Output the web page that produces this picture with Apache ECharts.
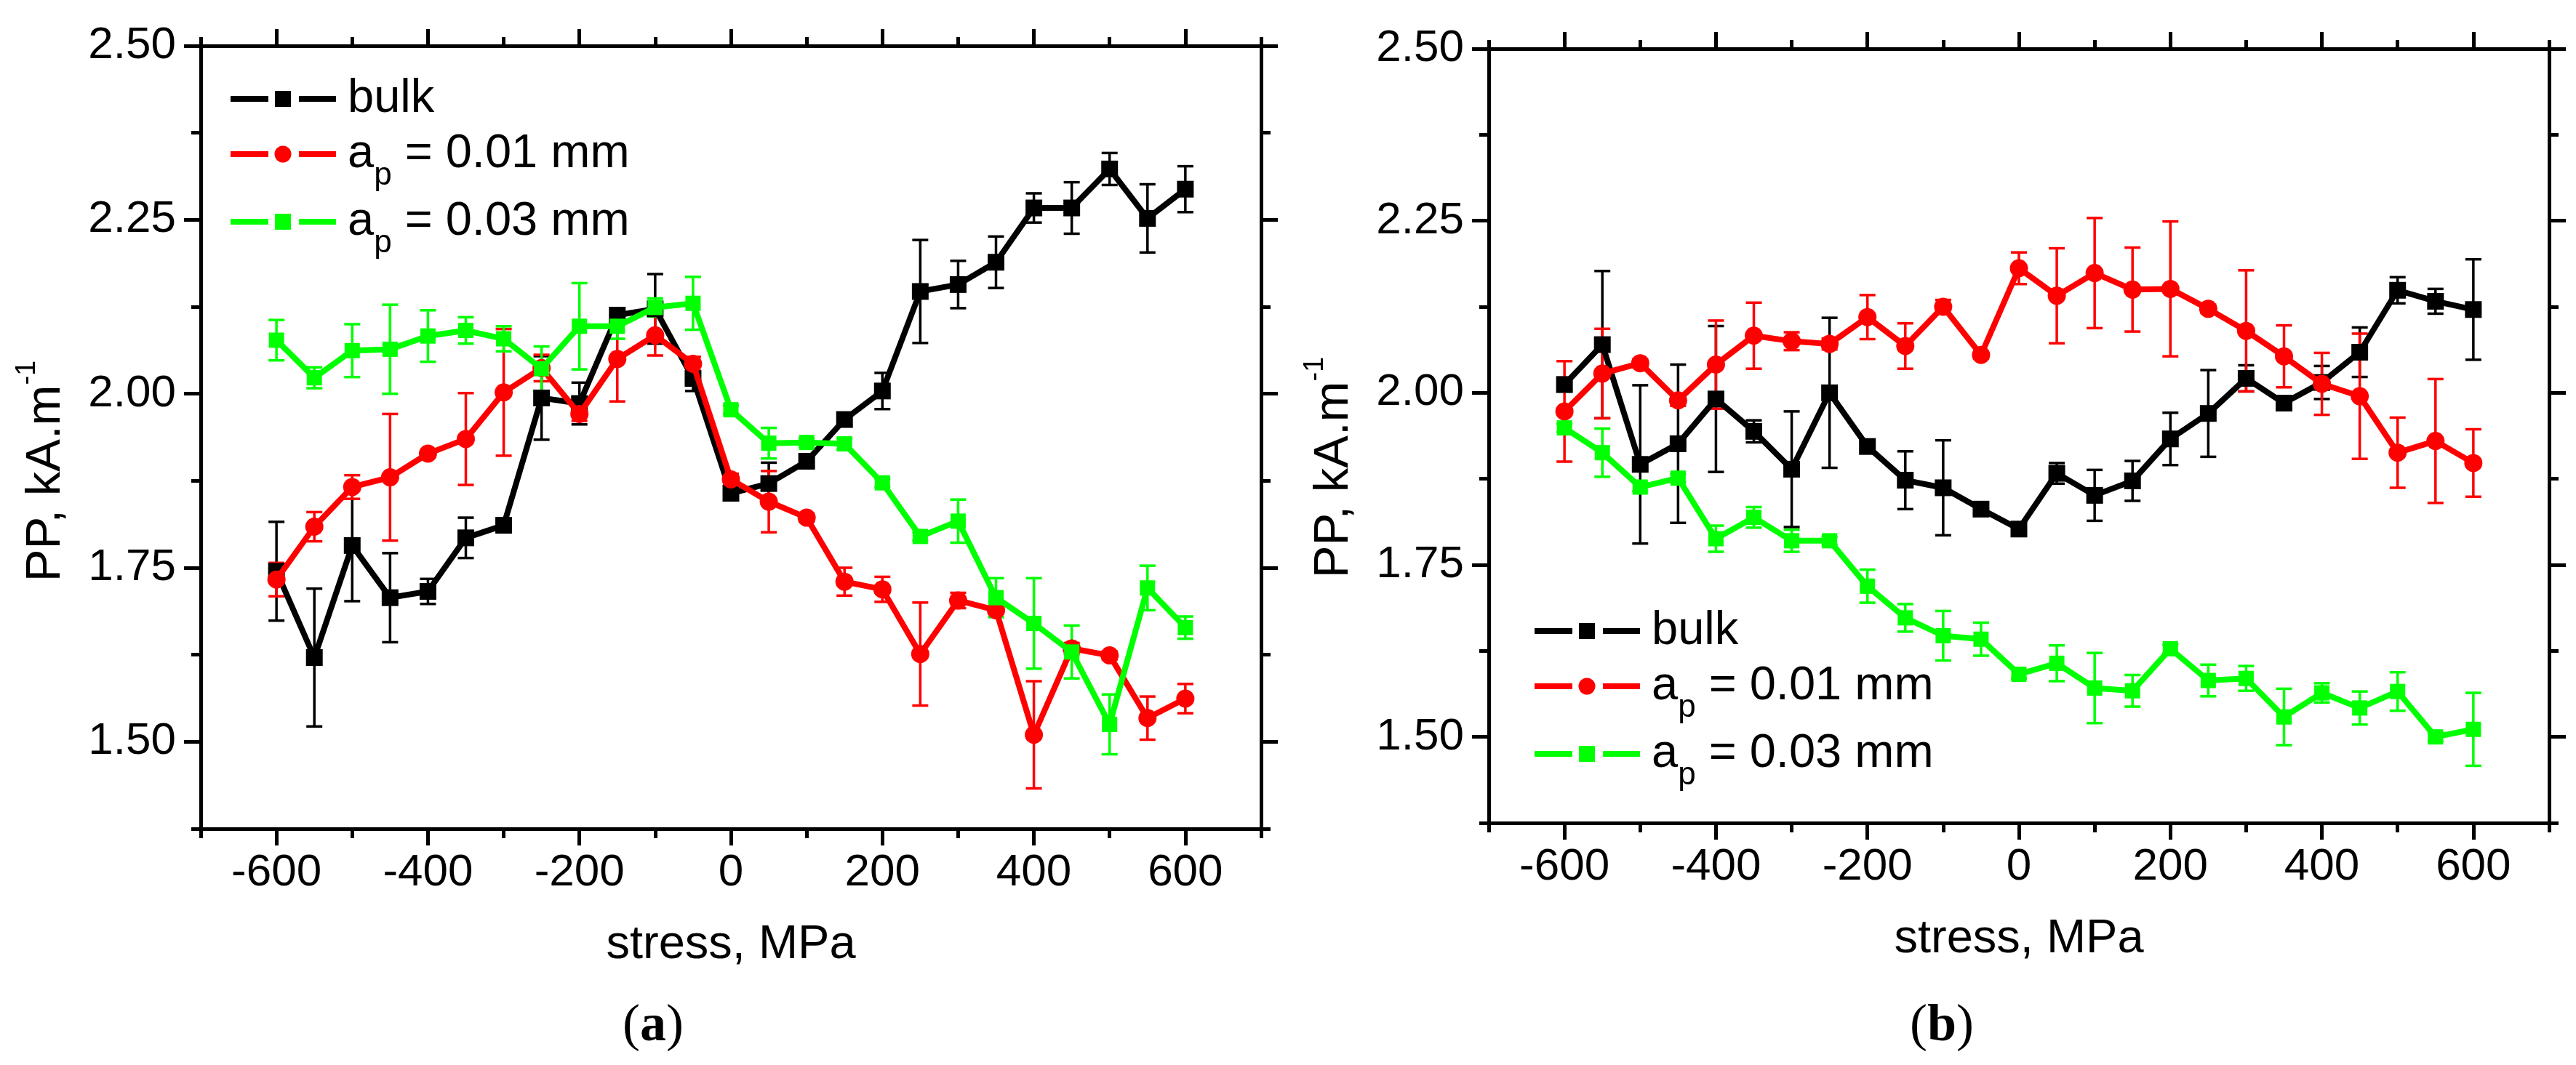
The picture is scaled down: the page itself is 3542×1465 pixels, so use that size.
<!DOCTYPE html>
<html><head><meta charset="utf-8">
<script src="https://cdn.jsdelivr.net/npm/echarts@6/dist/echarts.min.js"></script>
<style>html,body{margin:0;padding:0;background:#fff}#main{width:3542px;height:1465px}</style>
</head><body><div id="main"></div>
<script>
// ---------- DATA ----------
const stress = [-600,-550,-500,-450,-400,-350,-300,-250,-200,-150,-100,-50,0,50,100,150,200,250,300,350,400,450,500,550,600];
const seriesNames = ['bulk', 'a_p = 0.01 mm', 'a_p = 0.03 mm'];

// panel (a)
const bulkA     = [1.745,1.621,1.782,1.707,1.716,1.793,1.811,1.994,1.986,2.113,2.122,2.022,1.857,1.871,1.903,1.963,2.004,2.147,2.157,2.189,2.267,2.267,2.323,2.252,2.294];
const bulkAErr  = [0.071,0.099,0.080,0.064,0.018,0.029,0.006,0.060,0.030,0.010,0.050,0.018,0.008,0.030,0.008,0.008,0.026,0.074,0.034,0.037,0.021,0.037,0.023,0.049,0.033];
const ap01A     = [1.733,1.809,1.866,1.880,1.914,1.935,2.002,2.037,1.971,2.050,2.084,2.043,1.877,1.845,1.822,1.730,1.719,1.626,1.703,1.689,1.510,1.634,1.624,1.534,1.562];
const ap01AErr  = [0.024,0.021,0.017,0.091,0.005,0.066,0.091,0.019,0.010,0.061,0.029,0.010,0.008,0.044,0.006,0.020,0.018,0.074,0.011,0.005,0.077,0.008,0.006,0.031,0.021];
const ap03A     = [2.077,2.023,2.062,2.064,2.083,2.091,2.079,2.036,2.097,2.097,2.124,2.130,1.977,1.929,1.930,1.928,1.872,1.795,1.817,1.707,1.670,1.629,1.525,1.721,1.664];
const ap03AErr  = [0.029,0.015,0.038,0.064,0.037,0.019,0.018,0.032,0.062,0.018,0.013,0.038,0.006,0.022,0.006,0.008,0.006,0.006,0.031,0.028,0.065,0.038,0.043,0.032,0.016];

// panel (b)
const bulkB     = [2.012,2.070,1.896,1.926,1.991,1.944,1.889,2.000,1.922,1.873,1.862,1.831,1.802,1.883,1.851,1.872,1.933,1.970,2.021,1.985,2.015,2.059,2.149,2.133,2.121];
const bulkBErr  = [0.010,0.107,0.115,0.115,0.106,0.016,0.084,0.109,0.005,0.042,0.069,0.006,0.006,0.015,0.037,0.029,0.038,0.063,0.019,0.006,0.024,0.036,0.019,0.018,0.073];
const ap01B     = [1.973,2.028,2.043,1.989,2.041,2.083,2.075,2.071,2.110,2.068,2.125,2.055,2.181,2.141,2.174,2.150,2.151,2.122,2.090,2.053,2.013,1.995,1.913,1.930,1.898];
const ap01BErr  = [0.073,0.065,0.006,0.008,0.064,0.048,0.013,0.008,0.032,0.033,0.010,0.005,0.023,0.069,0.080,0.061,0.098,0.006,0.088,0.045,0.045,0.091,0.051,0.090,0.049];
const ap03B     = [1.949,1.913,1.863,1.876,1.788,1.819,1.785,1.785,1.719,1.673,1.647,1.642,1.591,1.607,1.571,1.567,1.628,1.582,1.585,1.529,1.564,1.542,1.566,1.500,1.511];
const ap03BErr  = [0.006,0.035,0.006,0.006,0.019,0.015,0.016,0.006,0.024,0.020,0.036,0.024,0.006,0.026,0.051,0.023,0.006,0.023,0.018,0.041,0.014,0.024,0.028,0.006,0.053];

// axes ticks
const xMajorTicks = [-600,-400,-200,0,200,400,600];
const xMinorTicks = [-700,-500,-300,-100,100,300,500,700];
const yMajorTicks = [1.50,1.75,2.00,2.25,2.50];
const yMinorTicks = [1.375,1.625,1.875,2.125,2.375];
const xName = 'stress, MPa';
const yName = 'PP, kA.m';
const panelLabels = ['a', 'b'];

// ---------- STYLE / LAYOUT ----------
const FONT = '"Liberation Sans", Arial, Helvetica, sans-serif';
const SERIF = '"Liberation Serif", "Times New Roman", serif';
const COLORS = ['#000000', '#ff0000', '#00ff00'];
const SYMBOLS = ['rect', 'circle', 'rect'];
const SYM_SIZE = [23, 25, 21];
// legend icons: line - symbol - line, with gaps (145 x 24 box)
const ICON_SQUARE = 'path://M0,8h52v8h-52zM61,1h22v22h-22zM94,8h51v8h-51zM0,0h0.01v0.01h-0.01zM145,24h-0.01v-0.01h0.01z';
const ICON_CIRCLE = 'path://M0,8h52v8h-52zM60.5,12a11.5,11.5,0,1,0,23,0a11.5,11.5,0,1,0,-23,0zM94,8h51v8h-51zM0,0h0.01v0.01h-0.01zM145,24h-0.01v-0.01h0.01z';
const ICONS = [ICON_SQUARE, ICON_CIRCLE, ICON_SQUARE];
const grids = [
  {left: 276, top: 63, width: 1458, height: 1077},
  {left: 2047, top: 67, width: 1458, height: 1065}
];
const panels = [
  {vals: [bulkA, ap01A, ap03A], errs: [bulkAErr, ap01AErr, ap03AErr], legend: {left: 317, top: 101}, ytitle: {x: 64, y: 648}, plabel: {x: 898, y: 1412}},
  {vals: [bulkB, ap01B, ap03B], errs: [bulkBErr, ap01BErr, ap03BErr], legend: {left: 2110, top: 833}, ytitle: {x: 1835, y: 643}, plabel: {x: 2670, y: 1412}}
];

const axisLineStyle = {color: '#000', width: 5};
const tickLineStyle = {color: '#000', width: 5};

const xAxes = [], yAxes = [];
grids.forEach((g, gi) => {
  const xb = {type: 'value', gridIndex: gi, min: -700, max: 700, splitLine: {show: false},
    axisLine: {show: true, onZero: false, lineStyle: axisLineStyle}};
  xAxes.push(Object.assign({}, xb, {position: 'bottom',
    name: xName, nameLocation: 'middle', nameGap: 128,
    nameTextStyle: {fontFamily: FONT, fontSize: 65, color: '#000'},
    axisTick: {show: true, inside: false, length: 23, lineStyle: tickLineStyle, customValues: xMajorTicks},
    axisLabel: {show: true, margin: 30, fontFamily: FONT, fontSize: 62, color: '#000', customValues: xMajorTicks}}));
  xAxes.push(Object.assign({}, xb, {position: 'bottom',
    axisTick: {show: true, inside: false, length: 13, lineStyle: tickLineStyle, customValues: xMinorTicks},
    axisLabel: {show: false}}));
  xAxes.push(Object.assign({}, xb, {position: 'top',
    axisTick: {show: true, inside: false, length: 23, lineStyle: tickLineStyle, customValues: xMajorTicks},
    axisLabel: {show: false}}));
  xAxes.push(Object.assign({}, xb, {position: 'top',
    axisTick: {show: true, inside: false, length: 12, lineStyle: tickLineStyle, customValues: xMinorTicks},
    axisLabel: {show: false}}));

  const yb = {type: 'value', gridIndex: gi, min: 1.375, max: 2.5, splitLine: {show: false},
    axisLine: {show: true, onZero: false, lineStyle: axisLineStyle}};
  yAxes.push(Object.assign({}, yb, {position: 'left',
    axisTick: {show: true, inside: false, length: 23, lineStyle: tickLineStyle, customValues: yMajorTicks},
    axisLabel: {show: true, margin: 34, fontFamily: FONT, fontSize: 62, color: '#000', customValues: yMajorTicks,
      formatter: v => Number(v).toFixed(2)}}));
  yAxes.push(Object.assign({}, yb, {position: 'left',
    axisTick: {show: true, inside: false, length: 13, lineStyle: tickLineStyle, customValues: yMinorTicks},
    axisLabel: {show: false}}));
  yAxes.push(Object.assign({}, yb, {position: 'right',
    axisTick: {show: true, inside: false, length: 23, lineStyle: tickLineStyle, customValues: yMajorTicks},
    axisLabel: {show: false}}));
  yAxes.push(Object.assign({}, yb, {position: 'right',
    axisTick: {show: true, inside: false, length: 13, lineStyle: tickLineStyle, customValues: yMinorTicks},
    axisLabel: {show: false}}));
});

function errRenderer(color) {
  return function (params, api) {
    const x = api.value(0), v = api.value(1), e = api.value(2);
    const hi = api.coord([x, v + e]);
    const lo = api.coord([x, v - e]);
    const w = 11;
    const style = {stroke: color, lineWidth: 3.5, fill: null};
    return {type: 'group', children: [
      {type: 'line', shape: {x1: hi[0], y1: hi[1], x2: lo[0], y2: lo[1]}, style: style},
      {type: 'line', shape: {x1: hi[0] - w, y1: hi[1], x2: hi[0] + w, y2: hi[1]}, style: style},
      {type: 'line', shape: {x1: lo[0] - w, y1: lo[1], x2: lo[0] + w, y2: lo[1]}, style: style}
    ]};
  };
}

const series = [];
panels.forEach((p, gi) => {
  p.vals.forEach((vals, si) => {
    series.push({
      type: 'custom', name: 'err ' + seriesNames[si] + ' ' + gi,
      xAxisIndex: gi * 4, yAxisIndex: gi * 4, z: 2, silent: true,
      renderItem: errRenderer(COLORS[si]),
      encode: {x: 0, y: 1},
      data: stress.map((s, i) => [s, vals[i], p.errs[si][i]])
    });
  });
  p.vals.forEach((vals, si) => {
    series.push({
      type: 'line', name: seriesNames[si],
      xAxisIndex: gi * 4, yAxisIndex: gi * 4, z: 3 + si,
      symbol: SYMBOLS[si], symbolSize: SYM_SIZE[si], showSymbol: true,
      lineStyle: {color: COLORS[si], width: 8},
      itemStyle: {color: COLORS[si], borderWidth: 0},
      emphasis: {disabled: true},
      animation: false,
      data: stress.map((s, i) => [s, vals[i]])
    });
  });
});

function legendFmt(name) {
  if (name.indexOf('a_p') === 0) return '{m|a}{s|p}{m|' + name.slice(3) + '}';
  return name;
}

const legends = panels.map(p => ({
  orient: 'vertical', left: p.legend.left, top: p.legend.top, padding: 0, itemGap: -11,
  itemWidth: 145, itemHeight: 24, selectedMode: false, symbolKeepAspect: false,
  data: seriesNames.map((n, i) => ({name: n, icon: ICONS[i], itemStyle: {color: COLORS[i]}})),
  formatter: legendFmt,
  textStyle: {color: '#000', fontFamily: FONT, fontSize: 65, lineHeight: 70, padding: [0, 0, 0, 11],
    rich: {
      m: {color: '#000', fontFamily: FONT, fontSize: 65, lineHeight: 70},
      s: {color: '#000', fontFamily: FONT, fontSize: 44, lineHeight: 46, padding: [60, 0, 0, 0]}
    }}
}));

const graphics = [];
panels.forEach((p, gi) => {
  graphics.push({
    type: 'text', x: p.ytitle.x, y: p.ytitle.y, rotation: Math.PI / 2, silent: true,
    style: {text: '{m|' + yName + '}{s|-1}', align: 'center', verticalAlign: 'middle', fill: '#000',
      rich: {
        m: {fill: '#000', fontFamily: FONT, fontSize: 67, lineHeight: 72},
        s: {fill: '#000', fontFamily: FONT, fontSize: 38, lineHeight: 40, padding: [0, 0, 52, 0]}
      }}
  });
  graphics.push({
    type: 'text', x: p.plabel.x, y: p.plabel.y, silent: true,
    style: {text: '{n|(}{b|' + panelLabels[gi] + '}{n|)}', align: 'center', verticalAlign: 'middle', fill: '#000',
      rich: {
        n: {fill: '#000', fontFamily: SERIF, fontSize: 72},
        b: {fill: '#000', fontFamily: SERIF, fontSize: 72, fontWeight: 'bold'}
      }}
  });
});

const chart = echarts.init(document.getElementById('main'), null, {renderer: 'canvas'});
chart.setOption({
  backgroundColor: '#ffffff',
  animation: false,
  grid: grids.map(g => Object.assign({containLabel: false, outerBoundsMode: 'none'}, g)),
  xAxis: xAxes,
  yAxis: yAxes,
  legend: legends,
  series: series,
  graphic: graphics
});
</script>
</body></html>
